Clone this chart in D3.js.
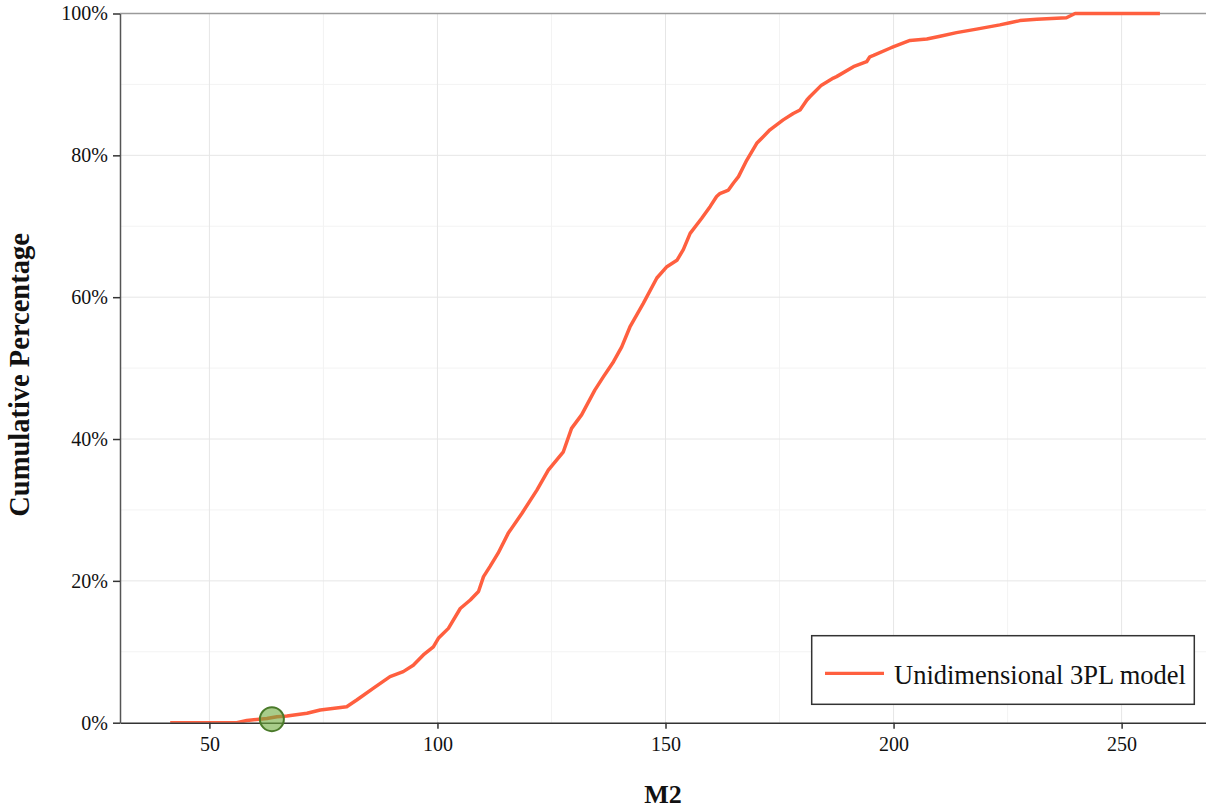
<!DOCTYPE html>
<html>
<head>
<meta charset="utf-8">
<script src="https://cdn.jsdelivr.net/npm/d3@7"></script>
<style>
  html, body { margin: 0; padding: 0; background: #fff; }
  svg { display: block; }
  text { font-family: "Liberation Serif", "Times New Roman", serif; fill: #111; }
</style>
</head>
<body>
<svg id="chart" width="1206" height="809"></svg>
<script>
// ---- data ----
const m2Values = [41.4, 56.0, 58.2, 62.6, 64.8, 67.0, 71.4, 74.3, 80.1, 82.3, 85.9, 89.6, 92.5, 94.7, 96.9, 99.1,
  100.2, 102.4, 105.0, 107.2, 109.0, 110.1, 111.5, 113.3, 115.5, 118.5, 121.8, 124.3, 127.6, 129.4, 131.6,
  134.5, 136.4, 138.6, 140.4, 142.2, 145.1, 148.1, 150.3, 152.5, 153.9, 155.4, 157.9, 159.8, 161.2, 161.9,
  163.8, 164.9, 166.0, 167.8, 170.0, 172.9, 175.8, 178.0, 179.5, 181.0, 181.7, 184.2, 186.8, 187.5, 191.2,
  194.1, 194.8, 195.6, 199.2, 199.9, 203.6, 207.3, 210.2, 213.8, 218.2, 223.3, 225.5, 227.7, 231.4, 237.9,
  239.8, 258.4];
const cumPct = [0.0, 0.0, 0.3, 0.6, 0.85, 0.94, 1.33, 1.8, 2.26, 3.2, 4.85, 6.5, 7.2, 8.1, 9.55, 10.7,
  11.9, 13.3, 16.1, 17.3, 18.5, 20.6, 22.0, 23.9, 26.7, 29.5, 32.8, 35.6, 38.2, 41.5, 43.4,
  46.9, 48.8, 50.9, 53.0, 55.8, 59.1, 62.7, 64.3, 65.2, 66.7, 69.0, 71.1, 72.8, 74.2, 74.6,
  75.1, 76.1, 77.0, 79.3, 81.7, 83.6, 85.0, 85.9, 86.4, 87.8, 88.3, 89.9, 90.9, 91.1, 92.5,
  93.2, 93.9, 94.1, 95.1, 95.3, 96.2, 96.4, 96.8, 97.3, 97.8, 98.4, 98.7, 99.0, 99.2, 99.4,
  100.0, 100.0];
const markerPoint = { x: 63.7, y: 0.5 };
const xTicks = [50, 100, 150, 200, 250];
const xMinorTicks = [75, 125, 175, 225];
const yTicks = [0, 20, 40, 60, 80, 100];
const yMinorTicks = [10, 30, 50, 70, 90];
const seriesName = "Unidimensional 3PL model";
const xTitle = "M2";
const yTitle = "Cumulative Percentage";

// ---- layout ----
const L = 120, R = 1206, T = 13.5, B = 722.7;
const svg = d3.select("#chart");

const x = d3.scaleLinear().domain([30.4, 268.5]).range([L, R]);
const y = d3.scaleLinear().domain([0, 100]).range([B, T]);

// gridlines
const grid = svg.append("g");
grid.selectAll(".xminor").data(xMinorTicks).join("line")
  .attr("x1", d => x(d)).attr("x2", d => x(d)).attr("y1", T).attr("y2", B)
  .attr("stroke", "#f3f3f3").attr("stroke-width", 1);
grid.selectAll(".yminor").data(yMinorTicks).join("line")
  .attr("x1", L).attr("x2", R).attr("y1", d => y(d)).attr("y2", d => y(d))
  .attr("stroke", "#f3f3f3").attr("stroke-width", 1);
grid.selectAll(".xmajor").data(xTicks).join("line")
  .attr("x1", d => x(d)).attr("x2", d => x(d)).attr("y1", T).attr("y2", B)
  .attr("stroke", "#e6e6e6").attr("stroke-width", 1);
grid.selectAll(".ymajor").data(yTicks.filter(d => d > 0 && d < 100)).join("line")
  .attr("x1", L).attr("x2", R).attr("y1", d => y(d)).attr("y2", d => y(d))
  .attr("stroke", "#e6e6e6").attr("stroke-width", 1);

// top border
svg.append("line").attr("x1", L).attr("x2", R).attr("y1", y(100)).attr("y2", y(100))
  .attr("stroke", "#9a9a9a").attr("stroke-width", 1.5);

// line
svg.append("clipPath").attr("id", "clip").append("rect")
  .attr("x", L).attr("y", T - 3).attr("width", R - L).attr("height", B - T + 3);
const data = m2Values.map((v, i) => ({ x: v, y: cumPct[i] }));
svg.append("path").datum(data)
  .attr("clip-path", "url(#clip)")
  .attr("fill", "none").attr("stroke", "#ff5f3f").attr("stroke-width", 3.5)
  .attr("stroke-linejoin", "round")
  .attr("d", d3.line().x(d => x(d.x)).y(d => y(d.y)));

// axes
const xAxis = svg.append("g").attr("transform", `translate(0,${B})`)
  .call(d3.axisBottom(x).tickValues(xTicks).tickSize(6).tickPadding(8).tickSizeOuter(0));
xAxis.select(".domain").attr("stroke", "#333").attr("stroke-width", 1.5);
xAxis.selectAll(".tick line").attr("stroke", "#333").attr("stroke-width", 1.5);
xAxis.selectAll(".tick text").attr("font-size", 20).attr("font-family", "Liberation Serif").attr("fill", "#111");

const yAxis = svg.append("g").attr("transform", `translate(${L},0)`)
  .call(d3.axisLeft(y).tickValues(yTicks).tickFormat(d => d + "%").tickSize(7).tickPadding(5).tickSizeOuter(0));
yAxis.select(".domain").attr("stroke", "#555").attr("stroke-width", 1.5);
yAxis.selectAll(".tick line").attr("stroke", "#333").attr("stroke-width", 1.5);
yAxis.selectAll(".tick text").attr("font-size", 20).attr("font-family", "Liberation Serif").attr("fill", "#111");

// marker
svg.append("circle").attr("cx", x(markerPoint.x)).attr("cy", y(markerPoint.y)).attr("r", 12)
  .attr("fill", "rgba(110,170,60,0.6)").attr("stroke", "#4a7a2a").attr("stroke-width", 2);

// axis titles
svg.append("text").attr("x", (L + R) / 2).attr("y", 803).attr("text-anchor", "middle")
  .attr("font-size", 26).attr("font-weight", "bold").text(xTitle);
svg.append("text").attr("transform", `translate(29,375) rotate(-90)`)
  .attr("text-anchor", "middle").attr("font-size", 28.5).attr("font-weight", "bold").text(yTitle);

// legend
const lg = svg.append("g");
lg.append("rect").attr("x", 811.7).attr("y", 635.7).attr("width", 382.6).attr("height", 68.6)
  .attr("fill", "#fff").attr("stroke", "#333").attr("stroke-width", 1.5);
lg.append("line").attr("x1", 825).attr("x2", 884).attr("y1", 673.3).attr("y2", 673.3)
  .attr("stroke", "#ff5f3f").attr("stroke-width", 3.2);
lg.append("text").attr("x", 894).attr("y", 683.5).attr("font-size", 26.5).text(seriesName);
</script>
</body>
</html>
